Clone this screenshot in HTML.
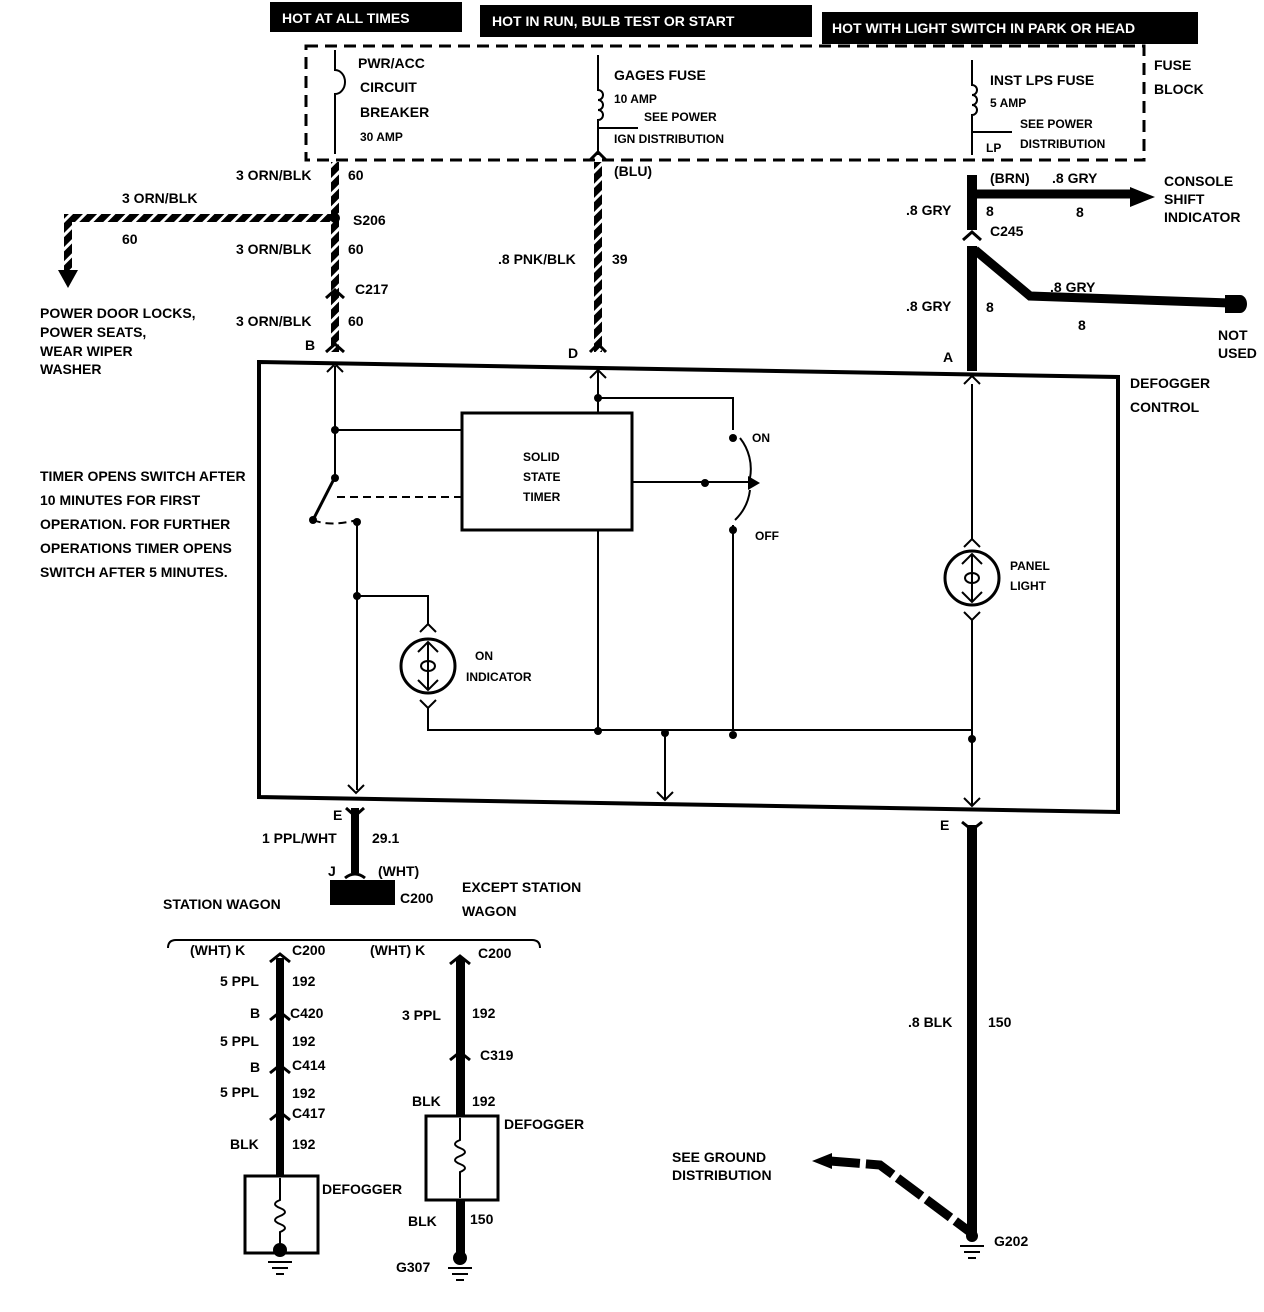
<!DOCTYPE html>
<html><head><meta charset="utf-8"><style>
html,body{margin:0;padding:0;background:#fff}
svg{display:block}
text{font-family:"Liberation Sans",sans-serif;font-weight:bold;font-size:14px;fill:#000}
.s{font-size:12px}
.w{fill:#fff;font-size:14px}
</style></head><body>
<svg width="1264" height="1312" viewBox="0 0 1264 1312">
<defs>
<pattern id="st" width="10" height="10" patternUnits="userSpaceOnUse" patternTransform="rotate(45)">
<rect width="10" height="10" fill="#000"/><rect x="0" width="3" height="10" fill="#fff"/></pattern>
</defs>
<!-- header boxes -->
<rect x="270" y="2" width="192" height="30" fill="#000"/>
<text x="282" y="23" class="w">HOT AT ALL TIMES</text>
<rect x="480" y="5" width="332" height="32" fill="#000"/>
<text x="492" y="26" class="w">HOT IN RUN,   BULB TEST OR START</text>
<rect x="822" y="12" width="376" height="32" fill="#000"/>
<text x="832" y="33" class="w">HOT WITH LIGHT SWITCH IN PARK OR HEAD</text>
<!-- fuse block -->
<rect x="306" y="46" width="838" height="114" fill="none" stroke="#000" stroke-width="3" stroke-dasharray="12,7"/>
<path d="M335 50 v20 a10 12 0 0 1 0 24 v60" fill="none" stroke="#000" stroke-width="2"/>
<path d="M598 55 v35 a5 5 0 0 1 0 10 a5 5 0 0 1 0 10 a5 5 0 0 1 0 10 v35 M598 128 h40" fill="none" stroke="#000" stroke-width="2"/>
<path d="M972 60 v25 a5 5 0 0 1 0 10 a5 5 0 0 1 0 10 a5 5 0 0 1 0 10 v40 M972 132 h40" fill="none" stroke="#000" stroke-width="2"/>
<text x="358" y="68">PWR/ACC</text><text x="360" y="92">CIRCUIT</text><text x="360" y="117">BREAKER</text><text x="360" y="141" class="s">30 AMP</text>
<text x="614" y="80">GAGES FUSE</text><text x="614" y="103" class="s">10 AMP</text><text x="644" y="121" class="s">SEE POWER</text><text x="614" y="143" class="s">IGN  DISTRIBUTION</text>
<text x="990" y="85">INST LPS FUSE</text><text x="990" y="107" class="s">5 AMP</text><text x="1020" y="128" class="s">SEE POWER</text><text x="986" y="152" class="s">LP</text><text x="1020" y="148" class="s">DISTRIBUTION</text>
<text x="1154" y="70">FUSE</text><text x="1154" y="94">BLOCK</text>
<!-- main wires -->
<rect x="331" y="162" width="8" height="190" fill="url(#st)"/>
<rect x="594" y="162" width="8" height="190" fill="url(#st)"/>
<rect x="68" y="214" width="267" height="8" fill="url(#st)"/>
<rect x="64" y="214" width="8" height="60" fill="url(#st)"/>
<polygon points="58,270 78,270 68,288" fill="#000"/>
<circle cx="335" cy="218" r="5"/>
<path d="M326 298 l9 -8 l9 8 M326 352 l9 -8 l9 8" stroke="#000" stroke-width="3" fill="none"/>
<path d="M590 160 l8 -8 l8 8 M590 352 l8 -8 l8 8" stroke="#000" stroke-width="3" fill="none"/>
<text x="236" y="180">3 ORN/BLK</text><text x="348" y="180">60</text>
<text x="122" y="203">3 ORN/BLK</text><text x="122" y="244">60</text>
<text x="353" y="225">S206</text>
<text x="236" y="254">3 ORN/BLK</text><text x="348" y="254">60</text>
<text x="355" y="294">C217</text>
<text x="236" y="326">3 ORN/BLK</text><text x="348" y="326">60</text>
<text x="305" y="350">B</text>
<text x="40" y="318">POWER DOOR LOCKS,</text><text x="40" y="337">POWER SEATS,</text><text x="40" y="356">WEAR WIPER</text><text x="40" y="374">WASHER</text>
<text x="614" y="176">(BLU)</text>
<text x="498" y="264">.8 PNK/BLK</text><text x="612" y="264">39</text>
<text x="568" y="358">D</text>
<!-- right wires -->
<rect x="967" y="175" width="10" height="55" fill="#000"/>
<rect x="967" y="246" width="10" height="125" fill="#000"/>
<path d="M972 194 H1135" stroke="#000" stroke-width="9"/>
<polygon points="1130,187 1155,197 1130,207" fill="#000"/>
<path d="M975 250 L1030 296 L1230 303" stroke="#000" stroke-width="9" fill="none"/>
<path d="M1225 295 h15 a7 9 0 0 1 0 18 h-15z" fill="#000"/>
<path d="M963 240 l9 -8 l9 8" stroke="#000" stroke-width="3" fill="none"/>
<text x="990" y="183">(BRN)</text><text x="1052" y="183">.8 GRY</text><text x="1076" y="217">8</text>
<text x="1164" y="186">CONSOLE</text><text x="1164" y="204">SHIFT</text><text x="1164" y="222">INDICATOR</text>
<text x="906" y="215">.8 GRY</text><text x="986" y="216">8</text><text x="990" y="236">C245</text>
<text x="906" y="311">.8 GRY</text><text x="986" y="312">8</text>
<text x="1050" y="292">.8 GRY</text><text x="1078" y="330">8</text>
<text x="1218" y="340">NOT</text><text x="1218" y="358">USED</text>
<text x="943" y="362">A</text>
<!-- defogger control box -->
<polygon points="259,362 1118,377 1118,812 259,797" fill="none" stroke="#000" stroke-width="4"/>
<text x="1130" y="388">DEFOGGER</text><text x="1130" y="412">CONTROL</text>
<g stroke="#000" stroke-width="2" fill="none">
<path d="M327 372 l8 -8 l8 8 M590 378 l8 -8 l8 8 M964 384 l8 -8 l8 8"/>
<path d="M335 366 V477 M335 430 H462 M598 370 V413 M598 398 H733 V430 M632 482 H750"/>
<path d="M335 477 L313 520" stroke-width="3"/>
<path d="M337 497 H462 M313 520 Q330 527 357 520" stroke-dasharray="8,5"/>
<path d="M357 520 V790 M357 596 H428 V625"/>
<path d="M420 632 l8 -8 l8 8 M420 700 l8 8 l8 -8 M428 708 V730 H972"/>
<path d="M598 530 V730 M665 730 V800 M733 525 V730 M972 384 V540 M972 620 V805"/>
<path d="M964 612 l8 8 l8 -8 M964 547 l8 -8 l8 8"/>
<path d="M348 785 l8 8 l8 -8 M657 792 l8 8 l8 -8 M964 798 l8 8 l8 -8"/>
<path d="M740 438 a50 50 0 0 1 10 40 M750 490 a50 50 0 0 1 -15 30"/>
</g>
<rect x="462" y="413" width="170" height="117" fill="#fff" stroke="#000" stroke-width="3"/>
<text x="523" y="461" class="s">SOLID</text><text x="523" y="481" class="s">STATE</text><text x="523" y="501" class="s">TIMER</text>
<g fill="#000"><circle cx="335" cy="430" r="4"/><circle cx="335" cy="478" r="4"/><circle cx="313" cy="520" r="4"/><circle cx="357" cy="522" r="4"/><circle cx="357" cy="596" r="4"/><circle cx="598" cy="398" r="4"/><circle cx="733" cy="438" r="4"/><circle cx="705" cy="483" r="4"/><circle cx="733" cy="530" r="4"/><circle cx="598" cy="731" r="4"/><circle cx="665" cy="733" r="4"/><circle cx="733" cy="735" r="4"/><circle cx="972" cy="739" r="4"/>
<polygon points="748,476 760,483 748,490"/></g>
<circle cx="428" cy="666" r="27" fill="none" stroke="#000" stroke-width="3"/>
<path d="M428 642 V690 M418 652 l10 -10 l10 10 M418 680 l10 10 l10 -10" stroke="#000" stroke-width="2" fill="none"/>
<ellipse cx="428" cy="666" rx="7" ry="5" fill="none" stroke="#000" stroke-width="2"/>
<circle cx="972" cy="578" r="27" fill="none" stroke="#000" stroke-width="3"/>
<path d="M972 554 V602 M962 564 l10 -10 l10 10 M962 592 l10 10 l10 -10" stroke="#000" stroke-width="2" fill="none"/>
<ellipse cx="972" cy="578" rx="7" ry="5" fill="none" stroke="#000" stroke-width="2"/>
<text x="475" y="660" class="s">ON</text><text x="466" y="681" class="s">INDICATOR</text>
<text x="1010" y="570" class="s">PANEL</text><text x="1010" y="590" class="s">LIGHT</text>
<text x="752" y="442" class="s">ON</text><text x="755" y="540" class="s">OFF</text>
<text x="40" y="481">TIMER OPENS SWITCH AFTER</text><text x="40" y="505">10 MINUTES FOR FIRST</text><text x="40" y="529">OPERATION.  FOR FURTHER</text><text x="40" y="553">OPERATIONS TIMER OPENS</text><text x="40" y="577">SWITCH AFTER 5 MINUTES.</text>
<!-- lower left -->
<rect x="351" y="808" width="8" height="65" fill="#000"/>
<path d="M346 808 l9 8 l9 -8" stroke="#000" stroke-width="3" fill="none"/>
<text x="333" y="820">E</text>
<text x="262" y="843">1 PPL/WHT</text><text x="372" y="843">29.1</text>
<text x="328" y="876">J</text><text x="378" y="876">(WHT)</text>
<path d="M345 878 q10 -8 20 0" stroke="#000" stroke-width="3" fill="none"/>
<rect x="330" y="880" width="65" height="25" fill="#000"/>
<text x="400" y="903">C200</text>
<text x="462" y="892">EXCEPT STATION</text><text x="462" y="916">WAGON</text>
<text x="163" y="909">STATION WAGON</text>
<path d="M168 948 q0 -8 8 -8 H532 q8 0 8 8" stroke="#000" stroke-width="2" fill="none"/>
<text x="190" y="955">(WHT)  K</text><text x="292" y="955">C200</text>
<text x="370" y="955">(WHT)  K</text><text x="478" y="958">C200</text>
<rect x="276" y="958" width="8" height="220" fill="#000"/>
<path d="M270 962 l10 -8 l10 8 M270 1020 l10 -8 l10 8 M270 1073 l10 -8 l10 8 M270 1120 l10 -8 l10 8" stroke="#000" stroke-width="3" fill="none"/>
<text x="220" y="986">5 PPL</text><text x="292" y="986">192</text>
<text x="250" y="1018">B</text><text x="290" y="1018">C420</text>
<text x="220" y="1046">5 PPL</text><text x="292" y="1046">192</text>
<text x="250" y="1072">B</text><text x="292" y="1070">C414</text>
<text x="220" y="1097">5 PPL</text><text x="292" y="1098">192</text>
<text x="292" y="1118">C417</text>
<text x="230" y="1149">BLK</text><text x="292" y="1149">192</text>
<rect x="245" y="1176" width="73" height="77" fill="#fff" stroke="#000" stroke-width="3"/>
<path d="M280 1178 V1200 q-10 4 0 8 q10 4 0 8 q-10 4 0 8 q10 4 0 8 V1250" stroke="#000" stroke-width="2" fill="none"/>
<circle cx="280" cy="1250" r="7"/>
<path d="M268 1262 h24 M272 1268 h16 M276 1274 h8" stroke="#000" stroke-width="2"/>
<text x="322" y="1194">DEFOGGER</text>
<rect x="456" y="958" width="9" height="300" fill="#000"/>
<path d="M450 964 l10 -8 l10 8 M450 1060 l10 -8 l10 8" stroke="#000" stroke-width="3" fill="none"/>
<text x="402" y="1020">3 PPL</text><text x="472" y="1018">192</text>
<text x="480" y="1060">C319</text>
<text x="412" y="1106">BLK</text><text x="472" y="1106">192</text>
<rect x="426" y="1116" width="72" height="84" fill="#fff" stroke="#000" stroke-width="3"/>
<path d="M460 1118 V1140 q-10 4 0 8 q10 4 0 8 q-10 4 0 8 q10 4 0 8 V1198" stroke="#000" stroke-width="2" fill="none"/>
<text x="504" y="1129">DEFOGGER</text>
<text x="408" y="1226">BLK</text><text x="470" y="1224">150</text>
<circle cx="460" cy="1258" r="7"/>
<path d="M448 1268 h24 M452 1274 h16 M456 1280 h8" stroke="#000" stroke-width="2"/>
<text x="396" y="1272">G307</text>
<!-- lower right -->
<rect x="967" y="825" width="10" height="410" fill="#000"/>
<path d="M962 822 l10 8 l10 -8" stroke="#000" stroke-width="3" fill="none"/>
<text x="940" y="830">E</text>
<text x="908" y="1027">.8 BLK</text><text x="988" y="1027">150</text>
<path d="M830 1161 L880 1165 L970 1232" stroke="#000" stroke-width="9" fill="none" stroke-dasharray="30,6"/>
<polygon points="812,1161 832,1153 832,1169" fill="#000"/>
<text x="672" y="1162">SEE GROUND</text><text x="672" y="1180">DISTRIBUTION</text>
<circle cx="972" cy="1236" r="6"/>
<path d="M960 1246 h24 M964 1252 h16 M968 1258 h8" stroke="#000" stroke-width="2"/>
<text x="994" y="1246">G202</text>
</svg>
</body></html>
